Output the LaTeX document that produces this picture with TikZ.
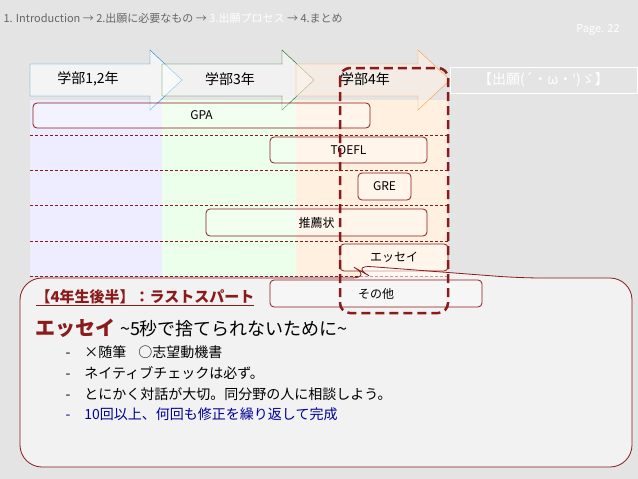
\documentclass[tikz,border=0pt]{standalone}
\usepackage{fontspec}
\setmainfont{Noto Sans CJK JP}
\usetikzlibrary{shapes.arrows}
\definecolor{dred}{HTML}{8B1A1A}
\definecolor{bgc}{HTML}{E4E4E4}
\tikzset{
 bar/.style={draw=dred,rounded corners=4pt,thick,fill=white,fill opacity=0.35,text opacity=1,font=\fontsize{12}{12}\selectfont},
 hd/.style={dred,densely dashed,line width=0.5pt},
 itm/.style={anchor=west,font=\fontsize{14}{14}\selectfont},
 lab/.style={font=\fontsize{14}{14}\selectfont},
}
\begin{document}
\begin{tikzpicture}[x=1pt,y=-1pt]
\fill[bgc] (0,0) rectangle (638,479);
\useasboundingbox (0,0) rectangle (638,479);
\node[anchor=west,gray!80!black,font=\fontsize{11}{11}\selectfont] (hdr) at (0,18) {1. Introduction → 2.出願に必要なもの → \textcolor{white}{3.出願プロセス} → 4.まとめ};
\node[white,font=\fontsize{11}{11}\selectfont] (pg) at (598,30) {Page. 22};
% columns
\fill[blue!7] (30,100) rectangle (162,276);
\fill[green!8] (162,100) rectangle (296,276);
\fill[orange!12] (296,100) rectangle (448,276);
% arrows
\draw[cyan!70!blue,fill=white,fill opacity=0.6] (30,64)--(150,64)--(150,50)--(182,80)--(150,110)--(150,96)--(30,96)--cycle;
\draw[green!40!black,fill=white,fill opacity=0.5] (162,64)--(282,64)--(282,50)--(314,80)--(282,110)--(282,96)--(162,96)--cycle;
\draw[orange!80,fill=orange!10,fill opacity=0.6] (296,64)--(418,64)--(418,50)--(450,80)--(418,110)--(418,96)--(296,96)--cycle;
\node[lab] (a1) at (88,79) {学部1,2年};
\node[lab] (a2) at (230,79) {学部3年};
\node[lab] (a3) at (365,79) {学部4年};
\node[draw=dred,thick,minimum width=187pt,minimum height=26pt,white,font=\fontsize{14}{14}\selectfont] (goal) at (543.5,80) {【出願(´・ω・`)ゞ】};
% dashed rows
\foreach \y in {135,170,205,241,276} \draw[hd] (30,\y)--(448,\y);
% bars
\node[bar,minimum width=337pt,minimum height=25pt] (gpa) at (201.5,115.5) {GPA};
\node[bar,minimum width=157pt,minimum height=26pt] (toefl) at (348.5,150) {TOEFL};
\node[bar,minimum width=53pt,minimum height=27pt] (gre) at (384.5,186.5) {GRE};
\node[bar,minimum width=221pt,minimum height=27pt] (rec) at (316.5,222.5) {推薦状};
\node[bar,minimum width=108pt,minimum height=27pt] (ess) at (394,257.5) {エッセイ};
% callout
\draw[dred,thick,rounded corners=22pt,fill=white,fill opacity=0.55] (20,278) -- (373,278) -- (350,265) -- (520,278) -- (632,278) -- (632,467) -- (20,467) -- cycle;
\node[bar,minimum width=212pt,minimum height=27pt] (other) at (376,293.5) {その他};
\draw[dred,line width=2.5pt,dash pattern=on 9pt off 5pt,rounded corners=10pt] (340,68) rectangle (448,313);
\node[anchor=west,dred,font=\bfseries\fontsize{15}{15}\selectfont] (t1) at (32,298) {\underline{【4年生後半】：ラストスパート}};
\node[anchor=west,font=\fontsize{20}{20}\selectfont] (t2) at (32,328) {\textcolor{dred}{\bfseries エッセイ} {\fontsize{18}{18}\selectfont\textasciitilde 5秒で捨てられないために\textasciitilde}};
\node[itm] (b1) at (62,352) {-\hspace{14pt}×随筆\hspace{12pt}○志望動機書};
\node[itm] (b2) at (62,373) {-\hspace{14pt}ネイティブチェックは必ず。};
\node[itm] (b3) at (62,394) {-\hspace{14pt}とにかく対話が大切。同分野の人に相談しよう。};
\node[itm,blue!60!black] (b4) at (62,414) {-\hspace{14pt}10回以上、何回も修正を繰り返して完成};
\end{tikzpicture}
\end{document}
